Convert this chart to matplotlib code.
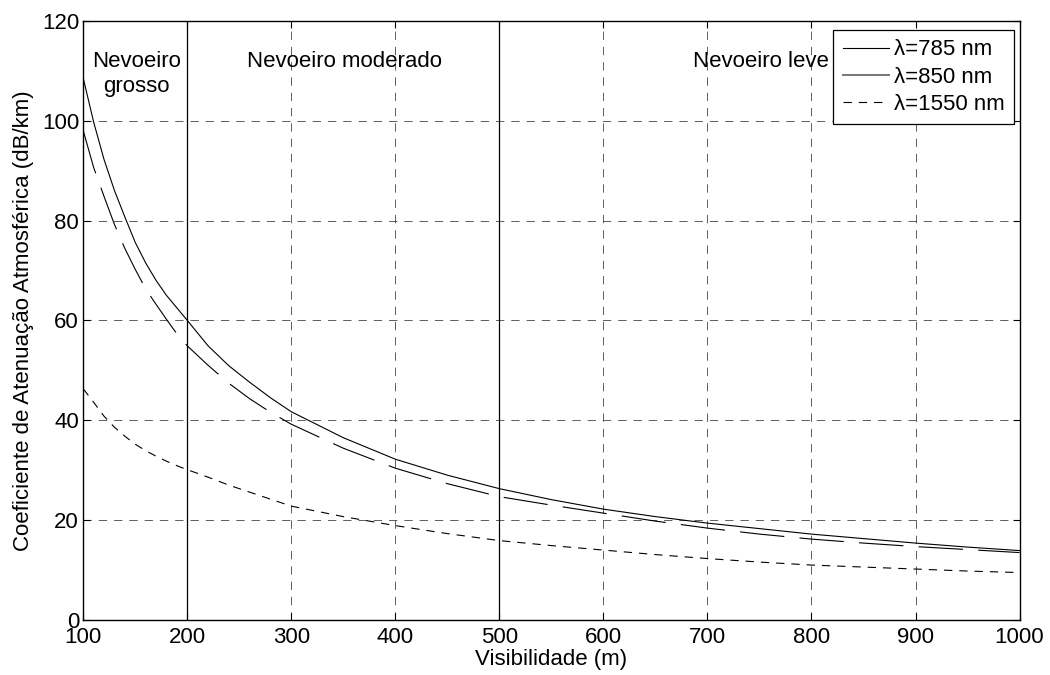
import numpy as np
import matplotlib
matplotlib.use('Agg')
import matplotlib.pyplot as plt
from matplotlib.lines import Line2D

plt.rcParams['font.family'] = ['Liberation Sans', 'DejaVu Sans']
plt.rcParams['font.size'] = 16
plt.rcParams['lines.scale_dashes'] = False

# visibility (m)
vis = [100, 110, 120, 130, 140, 150, 160, 170, 180, 190, 200, 220, 240, 260, 280,
       300, 350, 400, 450, 500, 550, 600, 650, 700, 750, 800, 850, 900, 950, 1000]
# attenuation (dB/km)
att_785 = [108.5, 99.7, 92.2, 86.0, 80.7, 75.6, 71.5, 68.0, 65.0, 62.5, 60.0, 54.9, 50.9,
           47.6, 44.5, 41.7, 36.5, 32.2, 29.0, 26.3, 24.1, 22.2, 20.7, 19.4, 18.3, 17.2,
           16.3, 15.4, 14.6, 13.9]
att_850 = [98.0, 90.6, 84.8, 79.2, 74.4, 70.2, 66.3, 63.2, 60.2, 57.3, 54.9, 51.0, 47.4,
           44.3, 41.6, 39.2, 34.4, 30.4, 27.3, 24.7, 23.0, 21.4, 19.8, 18.4, 17.2, 16.2,
           15.4, 14.7, 14.1, 13.5]
att_1550 = [46.3, 43.6, 40.8, 38.6, 36.8, 35.2, 33.9, 32.8, 31.8, 30.9, 30.1, 28.6, 27.0,
            25.6, 24.2, 22.8, 20.7, 18.9, 17.3, 15.9, 14.9, 14.0, 13.1, 12.3, 11.6, 11.0,
            10.6, 10.2, 9.8, 9.5]

labels = ['λ=785 nm', 'λ=850 nm', 'λ=1550 nm']

fig = plt.figure(figsize=(10.5, 6.75), dpi=100)
ax = fig.add_axes([0.0793, 0.0815, 0.8917, 0.8877])

ax.plot(vis, att_785, color='black', lw=0.8, zorder=3)
ax.plot(vis, att_850, color='black', lw=0.8, dashes=(32, 11), zorder=3)
ax.plot(vis, att_1550, color='black', lw=0.8, dashes=(6, 5), zorder=3)

ax.set_xlim(100, 1000)
ax.set_ylim(0, 120)
ax.set_xticks(np.arange(100, 1001, 100))
ax.set_yticks(np.arange(0, 121, 20))
ax.grid(True, color='#444444', lw=0.6, dashes=(6, 5))
ax.tick_params(direction='in', top=True, right=True, length=5, width=0.8, pad=3)
ax.tick_params(axis='x', pad=5)
for s in ax.spines.values():
    s.set_linewidth(1.0)

# limites das regioes de nevoeiro
for xb in [200, 500]:
    ax.axvline(xb, color='black', lw=0.9, zorder=2)

ax.text(151, 110.8, 'Nevoeiro', ha='center', va='baseline')
ax.text(151, 105.7, 'grosso', ha='center', va='baseline')
ax.text(257, 110.8, 'Nevoeiro moderado', ha='left', va='baseline')
ax.text(686, 110.8, 'Nevoeiro leve', ha='left', va='baseline')

ax.set_xlabel('Visibilidade (m)', labelpad=1)
ax.set_ylabel('Coeficiente de Atenuação Atmosférica (dB/km)', labelpad=6)

handles = [Line2D([], [], color='black', lw=0.8),
           Line2D([], [], color='#777777', lw=1.4),
           Line2D([], [], color='black', lw=0.8, dashes=(6, 5))]
leg = ax.legend(handles, labels, loc='upper right', bbox_to_anchor=(0.9944, 0.9846),
                borderaxespad=0, fancybox=False, framealpha=1, edgecolor='black',
                handlelength=2.1, handletextpad=0.22, labelspacing=0.28, borderpad=0.42)
leg.get_frame().set_linewidth(0.9)
leg.set_zorder(5)

fig.savefig('out.png', dpi=100)
